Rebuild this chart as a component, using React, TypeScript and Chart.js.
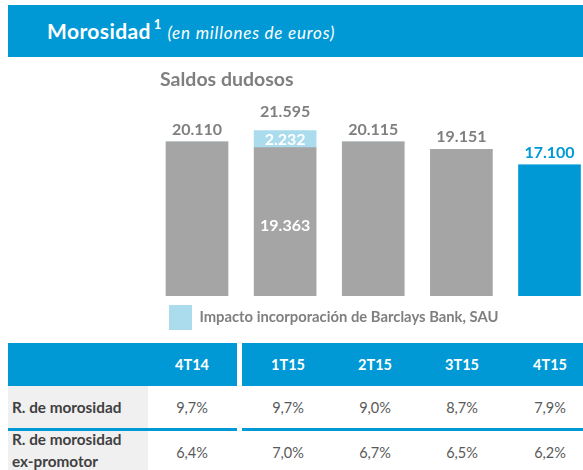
import React, { useEffect, useRef } from "react";
import { Chart, registerables } from "chart.js";

Chart.register(...registerables);

const quarters = ["4T14", "1T15", "2T15", "3T15", "4T15"];
const saldosDudosos = [20110, 19363, 20115, 19151, 17100];
const impactoBarclays = [0, 2232, 0, 0, 0];
const ratioMorosidad = [9.7, 9.7, 9.0, 8.7, 7.9];
const ratioExPromotor = [6.4, 7.0, 6.7, 6.5, 6.2];
const yTicksMax = 25000;

const BLUE = "#0099D5";
const LIGHT_BLUE = "#AADCEE";
const BAR_GRAY = "#A5A5A5";
const TEXT_GRAY = "#7F7F7F";
const FONT = "Lato, 'Open Sans', sans-serif";

const fmtThousands = (v: number) =>
  String(Math.round(v)).replace(/\B(?=(\d{3})+(?!\d))/g, ".");
const fmtPct = (v: number) => v.toFixed(1).replace(".", ",") + "%";

const lastIdx = quarters.length - 1;

const valueLabels = {
  id: "valueLabels",
  afterDatasetsDraw(chart: any) {
    const ctx = chart.ctx;
    const ys = chart.scales.y;
    const meta = chart.getDatasetMeta(0);
    ctx.save();
    ctx.textAlign = "center";
    ctx.textBaseline = "alphabetic";
    ctx.font = `bold 16px ${FONT}`;
    saldosDudosos.forEach((v, i) => {
      const x = meta.data[i].x;
      const imp = impactoBarclays[i];
      const total = v + imp;
      const topY = ys.getPixelForValue(total);
      if (imp > 0) {
        const baseTop = ys.getPixelForValue(v);
        const zero = ys.getPixelForValue(0);
        ctx.fillStyle = "#FFFFFF";
        ctx.fillText(fmtThousands(imp), x, (topY + baseTop) / 2 + 6);
        ctx.fillText(fmtThousands(v), x, (baseTop + zero) / 2 + 9);
      }
      ctx.fillStyle = i === lastIdx ? BLUE : TEXT_GRAY;
      ctx.fillText(fmtThousands(total), x, topY - (imp > 0 ? 13 : 7));
    });
    ctx.restore();
  },
};

function BarChart() {
  const ref = useRef<HTMLCanvasElement>(null);
  useEffect(() => {
    if (!ref.current) return;
    Chart.defaults.font.family = FONT;
    const chart = new Chart(ref.current, {
      type: "bar",
      data: {
        datasets: [
          {
            label: "Saldos dudosos",
            data: saldosDudosos.map((v, i) => ({ x: i, y: v })),
            backgroundColor: quarters.map((_, i) => (i === lastIdx ? BLUE : BAR_GRAY)),
            barThickness: 62,
            borderWidth: 0,
            stack: "s",
          },
          {
            label: "Impacto incorporación de Barclays Bank, SAU",
            data: impactoBarclays.map((v, i) => ({ x: i, y: v })),
            backgroundColor: LIGHT_BLUE,
            barThickness: 62,
            borderWidth: 0,
            stack: "s",
          },
        ],
      } as any,
      options: {
        animation: false,
        responsive: false,
        maintainAspectRatio: false,
        layout: { padding: { left: 160, right: 0, top: 0, bottom: 0 } },
        scales: {
          x: { type: "linear", min: -0.42, max: 4.38, display: false, stacked: true, offset: false },
          y: { min: 0, max: yTicksMax, display: false, stacked: true },
        },
        plugins: {
          title: {
            display: true,
            text: "Saldos dudosos",
            align: "start",
            color: TEXT_GRAY,
            font: { family: FONT, size: 19.5, weight: "bold" },
            padding: { top: 8, bottom: 13 },
          },
          legend: {
            display: true,
            position: "bottom",
            align: "start",
            labels: {
              filter: (item: any) => item.datasetIndex === 1,
              boxWidth: 23,
              boxHeight: 25,
              padding: 9,
              color: TEXT_GRAY,
              font: { family: FONT, size: 14.8, weight: "bold" },
            },
          },
          tooltip: { enabled: false },
        },
      } as any,
      plugins: [valueLabels],
    });
    return () => chart.destroy();
  }, []);
  return (
    <canvas
      ref={ref}
      width={583}
      height={280}
      style={{ position: "absolute", left: 0, top: 60, width: 583, height: 280 }}
    />
  );
}

type TxtProps = {
  x: number;
  base: number;
  size: number;
  bold?: boolean;
  italic?: boolean;
  color: string;
  center?: boolean;
  children: React.ReactNode;
};

function Txt({ x, base, size, bold, italic, color, center, children }: TxtProps) {
  const w = 120;
  return (
    <div
      style={{
        position: "absolute",
        left: center ? x - w / 2 : x,
        width: center ? w : undefined,
        top: base - 0.987 * size,
        fontSize: size,
        lineHeight: `${1.2 * size}px`,
        fontWeight: bold ? 700 : 400,
        fontStyle: italic ? "italic" : "normal",
        color,
        textAlign: center ? "center" : "left",
        whiteSpace: "nowrap",
        fontFamily: FONT,
      }}
    >
      {children}
    </div>
  );
}

const colCenters = [192, 288, 375, 462, 550];

export default function App() {
  return (
    <div
      style={{
        position: "fixed",
        left: 0,
        top: 0,
        width: 583,
        height: 470,
        overflow: "hidden",
        background: "#FFFFFF",
        fontFamily: FONT,
      }}
    >
      <div style={{ position: "absolute", left: 8, top: 5, width: 575, height: 52, background: BLUE }} />
      <div
        style={{
          position: "absolute",
          left: 47,
          top: 39 - 0.987 * 21,
          fontSize: 21,
          lineHeight: `${1.2 * 21}px`,
          color: "#FFFFFF",
          whiteSpace: "nowrap",
        }}
      >
        <span style={{ fontWeight: 700, letterSpacing: 0.4 }}>Morosidad</span>
        <span style={{ fontWeight: 700, fontSize: 13, position: "relative", top: -10, marginLeft: 3 }}>1</span>
        <span style={{ fontStyle: "italic", fontSize: 17, letterSpacing: 0.8, marginLeft: 6 }}>
          (en millones de euros)
        </span>
      </div>

      <BarChart />

      {/* table */}
      <div style={{ position: "absolute", left: 8, top: 343, width: 229, height: 43, background: BLUE }} />
      <div style={{ position: "absolute", left: 242, top: 343, width: 341, height: 43, background: BLUE }} />
      <div style={{ position: "absolute", left: 8, top: 386, width: 140, height: 42, background: "#F0F0F0" }} />
      <div style={{ position: "absolute", left: 8, top: 430, width: 140, height: 40, background: "#F0F0F0" }} />
      <div style={{ position: "absolute", left: 8, top: 428, width: 229, height: 2.5, background: BLUE }} />
      <div style={{ position: "absolute", left: 242, top: 428, width: 341, height: 2.5, background: BLUE }} />

      {quarters.map((q, i) => (
        <Txt key={q} x={colCenters[i]} base={370} size={14.5} bold color="#FFFFFF" center>
          {q}
        </Txt>
      ))}
      <Txt x={12} base={413} size={15.3} bold color="#404040">
        R. de morosidad
      </Txt>
      {ratioMorosidad.map((v, i) => (
        <Txt key={"m" + i} x={colCenters[i]} base={413} size={14.5} color="#595959" center>
          {fmtPct(v)}
        </Txt>
      ))}
      <Txt x={12} base={445} size={15.3} bold color="#404040">
        R. de morosidad
      </Txt>
      <Txt x={12} base={467} size={15.3} bold color="#404040">
        ex-promotor
      </Txt>
      {ratioExPromotor.map((v, i) => (
        <Txt key={"e" + i} x={colCenters[i]} base={458} size={14.5} color="#595959" center>
          {fmtPct(v)}
        </Txt>
      ))}
    </div>
  );
}
